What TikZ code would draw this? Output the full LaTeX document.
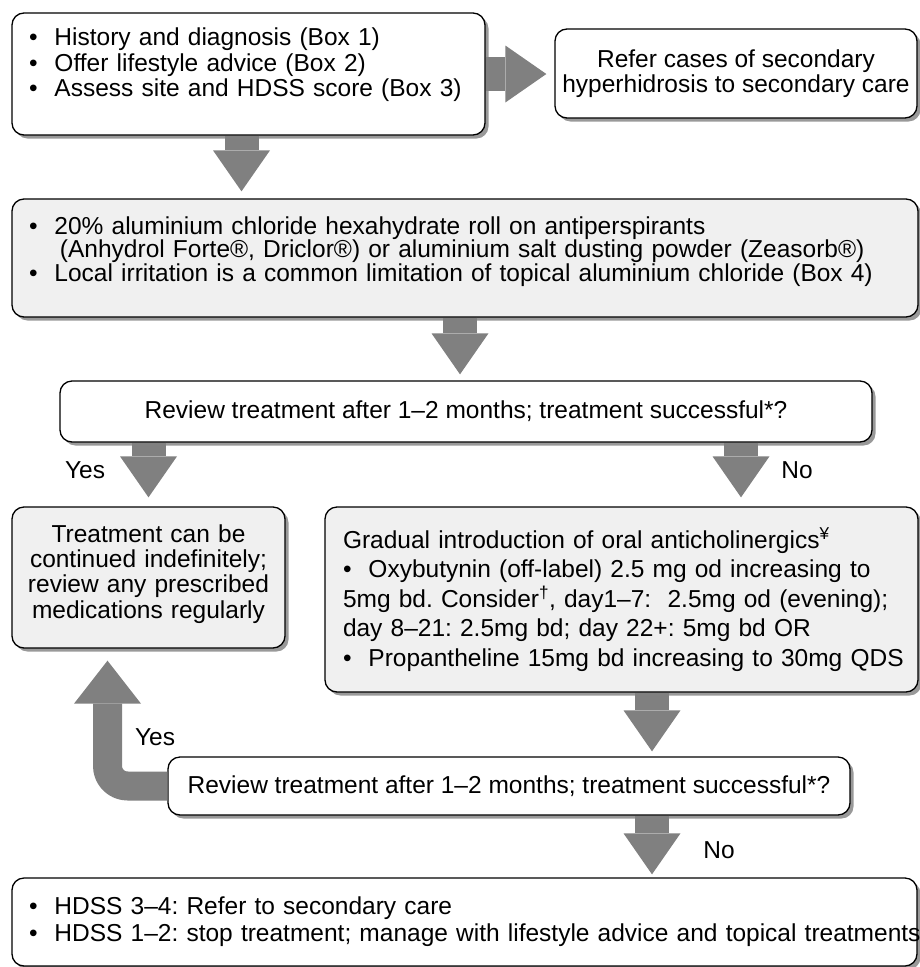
\documentclass[tikz,border=0pt]{standalone}
\usepackage{fontspec}
\setmainfont{Liberation Sans}
\usetikzlibrary{arrows.meta,shadows,calc}
\definecolor{boxgrey}{RGB}{240,240,240}
\definecolor{arrowgrey}{RGB}{128,128,128}
\newcommand{\bul}{\makebox[25.5pt][l]{\textbullet}}
\frenchspacing
\lineskiplimit=-10pt

\begin{document}
\begin{tikzpicture}[x=1pt,y=-1pt,line join=round,
  box/.style={draw=black,line width=1.3pt,rounded corners=12pt,fill=white,
    drop shadow={shadow xshift=3.5pt,shadow yshift=-3.5pt,fill=black!40,opacity=1},
    inner xsep=17pt,inner ysep=0pt,font={\fontsize{24.5}{25.5}\selectfont}},
  greybox/.style={box,fill=boxgrey},
  leftbox/.style={align=left,text width=#1,execute at begin node={\rightskip=-40pt plus 1fil}},
  lift/.style={execute at end node={\endgraf\kern#1}},
  answer/.style={inner sep=0pt,font={\fontsize{24.5}{25.5}\selectfont}},
  bigarrow/.style={line width=34pt,draw=arrowgrey,line cap=butt,
    -{Triangle[length=41pt,width=57pt,line width=0pt]}}]
\useasboundingbox (0,0) rectangle (920,967);

\node[box,leftbox=439pt,lift=18pt,minimum width=473pt,minimum height=122pt] (hist) at (248.5,74)
  {\bul History and diagnosis (Box 1)\\ \bul Offer lifestyle advice (Box 2)\\ \bul Assess site and HDSS score (Box 3)};
\node[box,align=center,inner xsep=4pt,minimum width=362pt,minimum height=89pt,font={\fontsize{24.5}{25}\selectfont}] (refer) at (736,73.5)
  {Refer cases of secondary\\hyperhidrosis to secondary care};
\node[greybox,leftbox=872pt,lift=13pt,minimum width=906pt,minimum height=118pt,font={\fontsize{24.5}{23.5}\selectfont}] (alum) at (465,258)
  {\bul 20\% aluminium chloride hexahydrate roll on antiperspirants\\
   \hspace*{31pt}(Anhydrol Forte®, Driclor®) or aluminium salt dusting powder (Zeasorb®)\\
   \bul Local irritation is a common limitation of topical aluminium chloride (Box 4)};
\node[box,align=center,minimum width=812pt,minimum height=61pt] (rev1) at (466,411.5)
  {Review treatment after 1–2 months; treatment successful*?};
\node[greybox,align=center,text width=253pt,inner xsep=10pt,lift=7pt,minimum width=273pt,minimum height=141pt,font={\fontsize{24.5}{25.3}\selectfont}] (cont) at (148.5,577.5)
  {Treatment can be\\continued indefinitely;\\review any prescribed\\medications regularly};
\node[greybox,leftbox=557pt,inner xsep=18pt,minimum width=593pt,minimum height=185pt,font={\fontsize{24.5}{29.5}\selectfont}] (oral) at (621.5,599.5)
  {Gradual introduction of oral anticholinergics\textsuperscript{¥}\\
   \bul Oxybutynin (off-label) 2.5 mg od increasing to\\
   5mg bd. Consider\textsuperscript{†}, day1–7:\ \ 2.5mg od (evening);\\
   day 8–21: 2.5mg bd; day 22+: 5mg bd OR\\
   \bul Propantheline 15mg bd increasing to 30mg QDS};
\node[box,align=center,minimum width=682pt,minimum height=58pt] (rev2) at (509,786)
  {Review treatment after 1–2 months; treatment successful*?};
\node[box,leftbox=871pt,minimum width=905pt,minimum height=88pt,font={\fontsize{24.5}{27}\selectfont}] (hdss) at (464.5,922)
  {\bul HDSS 3–4: Refer to secondary care\\
   \bul HDSS 1–2: stop treatment; manage with lifestyle advice and topical treatments};

\node[answer] (yes1) at (85,470) {Yes};
\node[answer] (no1) at (797,470) {No};
\node[answer] (yes2) at (155,737) {Yes};
\node[answer] (no2) at (719,850) {No};

\coordinate (histout) at ([xshift=-7pt]hist.south);
\coordinate (alumin) at (histout |- alum.north);
\coordinate (alumout) at ([xshift=-5pt]alum.south);
\coordinate (rev1in) at (alumout |- rev1.north);
\coordinate (rev1yes) at (rev1.south -| cont.north);
\coordinate (rev1no) at ([xshift=275pt]rev1.south);
\coordinate (oralin) at (rev1no |- oral.north);
\coordinate (oralout) at ([xshift=30.5pt]oral.south);
\coordinate (rev2in) at (oralout |- rev2.north);
\coordinate (rev2no) at (oralout |- rev2.south);
\coordinate (hdssin) at (oralout |- hdss.north);
\coordinate (yestip) at ([xshift=-41pt,yshift=-12pt]cont.south);

\draw[bigarrow,shorten >=8pt] (hist.east) -- (hist.east -| refer.west);
\draw[bigarrow,shorten >=7pt] (histout) -- (alumin);
\draw[bigarrow,shorten >=6pt] (alumout) -- (rev1in);
\draw[bigarrow,shorten >=9pt] (rev1yes) -- (cont.north);
\draw[bigarrow,shorten >=9pt] (rev1no) -- (oralin);
\draw[bigarrow,shorten >=5pt] (oralout) -- (rev2in);
\draw[bigarrow,shorten >=3pt] (rev2no) -- (hdssin);
\draw[bigarrow,line width=29pt,rounded corners=20pt,-{Triangle[length=43pt,width=67pt,line width=0pt]}] (rev2.west) -| (yestip);
\end{tikzpicture}
\end{document}
